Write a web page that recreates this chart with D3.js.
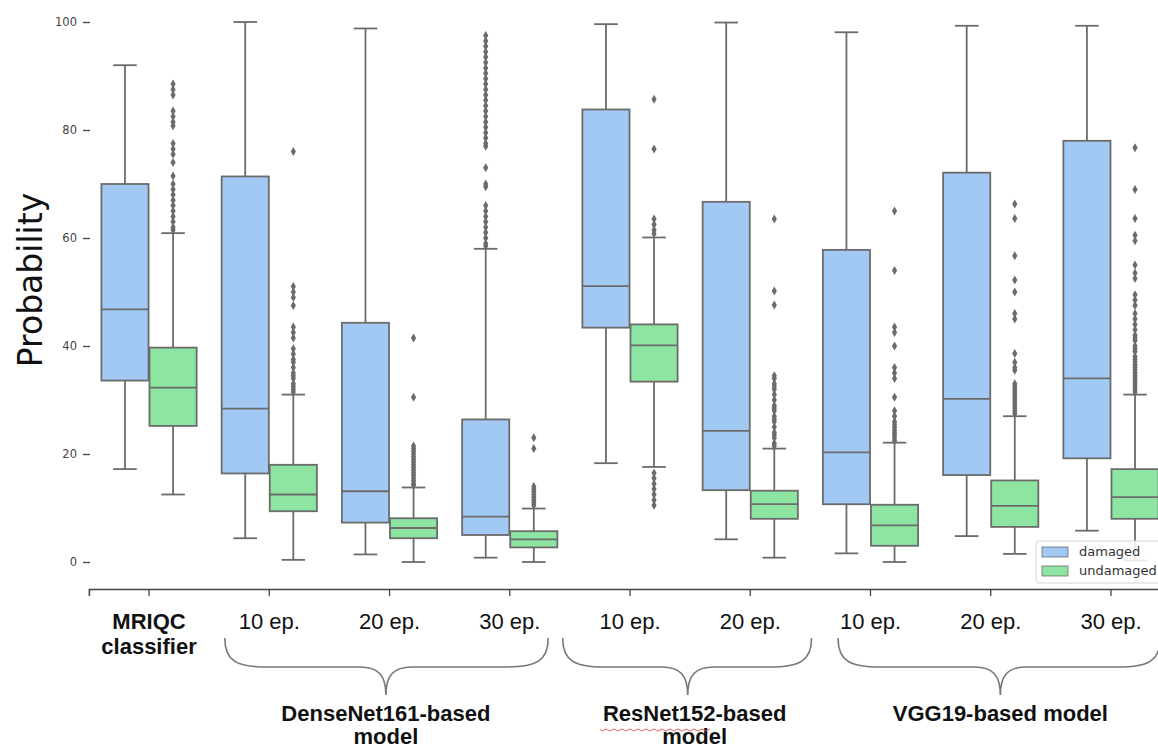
<!DOCTYPE html>
<html>
<head>
<meta charset="utf-8">
<script src="https://cdn.jsdelivr.net/npm/d3@7"></script>
<style>
	body { margin: 0; background: #fff; }
	#chart svg { display: block; }
</style>
</head>
<body>
<div id="chart"></div>
<script>
// categories along the x axis
var categories = ["MRIQC", "Dense10", "Dense20", "Dense30", "Res10", "Res20", "VGG10", "VGG20", "VGG30"];
var tickLabels = [["MRIQC", "classifier"], ["10 ep."], ["20 ep."], ["30 ep."], ["10 ep."], ["20 ep."], ["10 ep."], ["20 ep."], ["30 ep."]];
var hues = ["damaged", "undamaged"];
var yTicks = [0, 20, 40, 60, 80, 100];

// box stats: [lower whisker, q1, median, q3, upper whisker]
var damagedStats = [
	[17.2, 33.6, 46.8, 70.0, 92.0],
	[4.4, 16.4, 28.4, 71.4, 100],
	[1.4, 7.3, 13.1, 44.3, 98.8],
	[0.8, 5.0, 8.4, 26.4, 58.0],
	[18.3, 43.4, 51.1, 83.8, 99.6],
	[4.2, 13.3, 24.3, 66.7, 99.9],
	[1.6, 10.7, 20.3, 57.8, 98.1],
	[4.8, 16.1, 30.2, 72.1, 99.3],
	[5.8, 19.2, 34.0, 78.0, 99.3]
];
var undamagedStats = [
	[12.5, 25.2, 32.3, 39.7, 60.9],
	[0.4, 9.4, 12.5, 18.0, 31.0],
	[0.0, 4.4, 6.3, 8.1, 13.8],
	[0.0, 2.7, 4.2, 5.7, 9.9],
	[17.6, 33.4, 40.1, 44.0, 60.1],
	[0.8, 8.0, 10.7, 13.2, 21.0],
	[0.0, 3.0, 6.8, 10.6, 22.1],
	[1.5, 6.5, 10.4, 15.1, 27.0],
	[0.3, 8.0, 12.0, 17.2, 31.0]
];

// outliers
var damagedOutliers = [
	[], [], [],
	[58.5, 59, 60, 61, 62, 63, 64, 65, 66, 69.5, 70, 73, 77, 77.5, 78.5, 79.5, 80.5, 81.5, 82.5, 83.5, 84.5, 85.5, 86.5, 87.5, 88.5, 89.5, 90.5, 91.5, 92.5, 93.5, 94.5, 95.5, 96.5, 97.5],
	[], [], [], [], []
];
var undamagedOutliers = [
	[61.5, 62, 63, 64, 65, 66, 67, 68, 69, 70, 71.5, 74, 75.5, 76.5, 77.5, 80.8, 81.5, 82.5, 83.5, 86.5, 87.5, 88.5],
	[31.5, 32, 32.5, 33, 34, 34.5, 35, 36, 37, 37.5, 38.5, 39.5, 41.5, 42.5, 43.5, 47.5, 49, 50, 51, 76],
	[14.2, 14.5, 15, 15.5, 16, 16.5, 17, 17.5, 18, 18.5, 19, 19.5, 20, 20.5, 21, 21.5, 30.5, 41.5],
	[10.5, 11, 11.5, 12, 12.5, 13, 13.5, 14, 21, 23],
	[10.5, 11.5, 12.5, 13.5, 14.5, 15.5, 16.5, 60.8, 61.5, 62.5, 63.5, 76.5, 85.7],
	[21.5, 22, 23, 23.5, 24, 25, 26, 26.5, 27, 28, 28.5, 29, 30, 31, 32, 32.5, 33, 34, 34.5, 47.6, 50.2, 63.5],
	[22.5, 23, 23.5, 24, 24.5, 25, 25.5, 26, 27, 28, 30.5, 34, 35, 36, 40, 42.5, 43.5, 54, 65],
	[27.5, 28, 28.5, 29, 29.5, 30, 30.5, 31, 31.5, 32, 32.5, 33, 35.5, 36, 37, 38.6, 45, 46, 50, 52.2, 56.7, 63.6, 66.3],
	[31.5, 32, 32.5, 33, 33.5, 34, 34.5, 35, 35.5, 36, 36.5, 37, 37.5, 38, 39, 39.5, 40, 41, 41.5, 42, 43, 44, 45, 46, 47.5, 48.5, 49.5, 52.5, 53.5, 55, 59.5, 60.5, 63.6, 69, 76.7]
];

// model groups under the axis: label lines, and brace [start, tip, end] in category units
var groupNames = [["DenseNet161-based", "model"], ["ResNet152-based", "model"], ["VGG19-based model"]];
var groupSpans = [[0.63, 1.97, 3.32], [3.44, 4.48, 5.51], [5.73, 7.08, 8.41]];

function chart() {
	document.getElementById('chart').innerHTML = "";

	var width = 1158, height = 747;
	var edge = "#6b6b6b";
	var colors = {damaged: "#a1c9f4", undamaged: "#8de5a1"};

	var svg = d3.select("#chart").append("svg")
	.attr("width", width)
	.attr("height", height)
	.style("font-family", "'DejaVu Sans', sans-serif");

	// set the ranges
	var x = d3.scaleBand().domain(categories).range([88.9, 1171.1]);
	var xPos = d3.scaleLinear().domain([-0.5, 8.5]).range([88.9, 1171.1]);
	var xHue = d3.scaleBand().domain(hues).range([0.1 * x.step(), 0.9 * x.step()]);
	var y = d3.scaleLinear().domain([0, 100]).range([562, 22]);
	var boxW = xHue.bandwidth() * 0.98;

	// y axis, no spine
	var yAxis = svg.append("g")
	.attr("transform", "translate(90,0)")
	.call(d3.axisLeft(y).tickValues(yTicks).tickSize(7).tickPadding(6));
	yAxis.select(".domain").remove();
	yAxis.selectAll("line").attr("stroke", "#444").attr("stroke-width", 1.3);
	yAxis.selectAll("text").attr("fill", "#444").style("font-size", "11.5px").style("font-family", "'DejaVu Sans', sans-serif");

	svg.append("text")
	.attr("transform", "translate(42,280) rotate(-90)")
	.attr("text-anchor", "middle")
	.style("font-size", "33px")
	.attr("fill", "#111")
	.text("Probability");

	// x axis
	var xAxis = svg.append("g")
	.attr("transform", "translate(0,589)")
	.call(d3.axisBottom(x).tickSize(7).tickFormat(""));
	xAxis.select(".domain").attr("stroke", "#444").attr("stroke-width", 1.6);
	xAxis.selectAll("line").attr("stroke", "#444").attr("stroke-width", 1.3);

	// boxes
	var allStats = {damaged: damagedStats, undamaged: undamagedStats};
	var allOutliers = {damaged: damagedOutliers, undamaged: undamagedOutliers};
	var diamond = "M0,-4.5L2.6,0L0,4.5L-2.6,0Z";

	hues.forEach(function(h) {
		categories.forEach(function(c, i) {
			var s = allStats[h][i];
			var cx = x(c) + xHue(h) + xHue.bandwidth() / 2;
			var g = svg.append("g").attr("class", "box");

			// whiskers
			g.append("line").attr("x1", cx).attr("x2", cx).attr("y1", y(s[3])).attr("y2", y(s[4]));
			g.append("line").attr("x1", cx).attr("x2", cx).attr("y1", y(s[1])).attr("y2", y(s[0]));
			g.append("line").attr("x1", cx - boxW / 4).attr("x2", cx + boxW / 4).attr("y1", y(s[4])).attr("y2", y(s[4]));
			g.append("line").attr("x1", cx - boxW / 4).attr("x2", cx + boxW / 4).attr("y1", y(s[0])).attr("y2", y(s[0]));

			g.append("rect")
			.attr("x", cx - boxW / 2)
			.attr("width", boxW)
			.attr("y", y(s[3]))
			.attr("height", y(s[1]) - y(s[3]))
			.attr("fill", colors[h]);

			g.append("line").attr("x1", cx - boxW / 2).attr("x2", cx + boxW / 2).attr("y1", y(s[2])).attr("y2", y(s[2]));

			g.selectAll("line, rect").attr("stroke", edge).attr("stroke-width", 1.8);

			g.selectAll("path")
			.data(allOutliers[h][i])
			.enter().append("path")
			.attr("d", diamond)
			.attr("transform", function(d) { return "translate(" + cx + "," + y(d) + ")"; })
			.attr("fill", edge);
		});
	});

	// category labels under the axis
	categories.forEach(function(c, i) {
		var t = svg.append("text")
		.attr("x", x(c) + x.bandwidth() / 2)
		.attr("y", 629)
		.attr("text-anchor", "middle")
		.style("font-family", "'Liberation Sans', Arial, sans-serif")
		.style("font-size", "22px")
		.style("font-weight", i == 0 ? "bold" : "normal")
		.attr("fill", "#111");
		tickLabels[i].forEach(function(line, j) {
			t.append("tspan").attr("x", x(c) + x.bandwidth() / 2).attr("dy", j == 0 ? 0 : 25).text(line);
		});
	});

	// braces and model names
	groupSpans.forEach(function(sp, i) {
		var x0 = xPos(sp[0]), xt = xPos(sp[1]), x1 = xPos(sp[2]);
		var top = 638, mid = 667, tip = 695;
		var p = "M" + x0 + "," + top +
			"C" + x0 + "," + (mid - 6) + " " + (x0 + 12) + "," + mid + " " + (x0 + 42) + "," + mid +
			"L" + (xt - 26) + "," + mid +
			"C" + (xt - 8) + "," + mid + " " + xt + "," + (mid + 8) + " " + xt + "," + tip +
			"C" + xt + "," + (mid + 8) + " " + (xt + 8) + "," + mid + " " + (xt + 26) + "," + mid +
			"L" + (x1 - 42) + "," + mid +
			"C" + (x1 - 12) + "," + mid + " " + x1 + "," + (mid - 6) + " " + x1 + "," + top;
		svg.append("path")
		.attr("d", p)
		.attr("fill", "none")
		.attr("stroke", "#777")
		.attr("stroke-width", 1.6);

		var t = svg.append("text")
		.attr("y", 721)
		.attr("text-anchor", "middle")
		.style("font-family", "'Liberation Sans', Arial, sans-serif")
		.style("font-size", "22px")
		.style("font-weight", "bold")
		.attr("fill", "#111");
		groupNames[i].forEach(function(line, j) {
			t.append("tspan").attr("x", xt + (i == 1 ? 7 : 0)).attr("dy", j == 0 ? 0 : 23).text(line);
		});
	});

	// spell-check squiggle under "ResNet152"
	var sq = "M600,729";
	for (var k = 0; k < 28; k++) {
		sq += "L" + (602 + k * 4) + "," + (k % 2 == 0 ? 731 : 729);
	}
	svg.append("path").attr("d", sq).attr("fill", "none").attr("stroke", "#e05050").attr("stroke-width", 0.9);

	// legend
	var lg = svg.append("g").attr("transform", "translate(1036,541)");
	lg.append("rect")
	.attr("width", 140).attr("height", 42).attr("rx", 3)
	.attr("fill", "#fff").attr("fill-opacity", 0.85)
	.attr("stroke", "#d5d5d5");
	hues.forEach(function(h, i) {
		lg.append("rect")
		.attr("x", 6).attr("y", 6 + i * 19)
		.attr("width", 26).attr("height", 10)
		.attr("fill", colors[h])
		.attr("stroke", edge).attr("stroke-width", 0.8);
		lg.append("text")
		.attr("x", 43).attr("y", 15 + i * 19)
		.style("font-size", "13px")
		.attr("fill", "#333")
		.text(h);
	});
}

chart();
</script>
</body>
</html>
